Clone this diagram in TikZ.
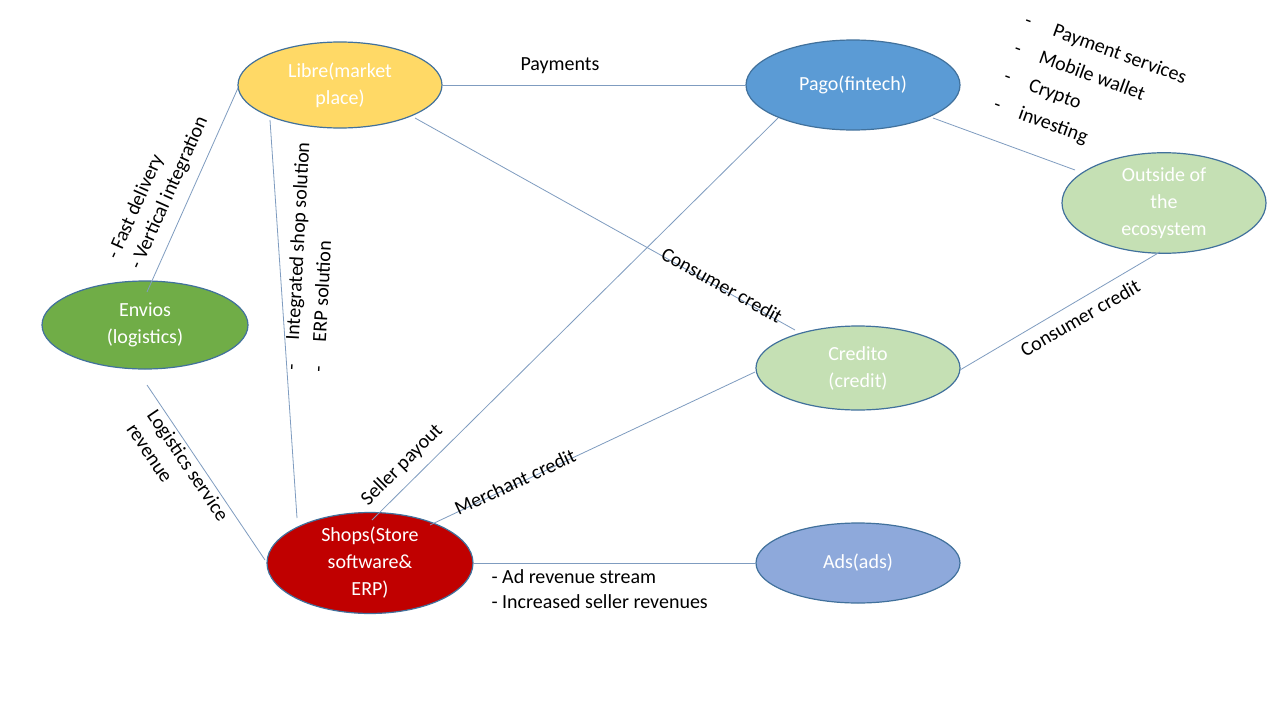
\documentclass[tikz,border=0pt]{standalone}
\usepackage{fontspec}
\setmainfont{Carlito}
\usetikzlibrary{shapes.geometric}
\definecolor{edge}{HTML}{7F9CC0}
\definecolor{cyel}{HTML}{FFD966}
\definecolor{cblue}{HTML}{5B9BD5}
\definecolor{clgreen}{HTML}{C5E0B4}
\definecolor{cgreen}{HTML}{70AD47}
\definecolor{cred}{HTML}{C00000}
\definecolor{cads}{HTML}{8EA9DB}
\definecolor{cborder}{HTML}{41719C}
\begin{document}
\begin{tikzpicture}[x=1pt,y=-1pt,
  el/.style={ellipse,draw=cborder,line width=1.2pt,text=white,font=\fontsize{20}{27}\selectfont,align=center,inner sep=0pt},
  ln/.style={draw=edge,line width=0.8pt},
  lab/.style={font=\fontsize{20}{25}\selectfont,text=black}]
\useasboundingbox[fill=white] (0,0) rectangle (1280,718);
\node[el,fill=cyel,minimum width=204pt,minimum height=86pt] (libre) at (340,85) {Libre(market\\place)};
\node[el,fill=cblue,minimum width=214pt,minimum height=90pt] (pago) at (853,85) {Pago(fintech)};
\node[el,fill=clgreen,minimum width=204pt,minimum height=90pt] (out) at (1164,203) {Outside of\\the\\ecosystem};
\node[el,fill=cgreen,minimum width=206pt,minimum height=88pt] (env) at (145,325) {Envios\\(logistics)};
\node[el,fill=clgreen,minimum width=204pt,minimum height=84pt] (cred) at (858,368) {Credito\\(credit)};
\node[el,fill=cred,minimum width=206pt,minimum height=88pt] (shops) at (370,563) {Shops(Store\\software\&\\ERP)};
\node[el,fill=cads,minimum width=204pt,minimum height=80pt] (ads) at (858,563) {Ads(ads)};
\coordinate (l1) at (238,88); \coordinate (e1) at (147,292);
\coordinate (l2) at (270,120); \coordinate (s2) at (297,518);
\coordinate (l3) at (415,118); \coordinate (c3) at (795,330);
\coordinate (p4) at (778,118); \coordinate (s4) at (372,520);
\coordinate (p5) at (933,118); \coordinate (o5) at (1075,170);
\coordinate (o6) at (1160,252); \coordinate (c6) at (960,370);
\coordinate (c7) at (755,372); \coordinate (s7) at (430,525);
\coordinate (e8) at (147,385); \coordinate (s8) at (265,560);
\draw[ln] (libre.east) -- (pago.west);
\draw[ln] (l1) -- (e1);
\draw[ln] (l2) -- (s2);
\draw[ln] (l3) -- (c3);
\draw[ln] (p4) -- (s4);
\draw[ln] (p5) -- (o5);
\draw[ln] (o6) -- (c6);
\draw[ln] (c7) -- (s7);
\draw[ln] (e8) -- (s8);
\draw[ln] (shops.east) -- (ads.west);
\node[lab] (t1) at (560,66) {Payments};
\node[lab,rotate=66,align=left] (t2) at (158,188) {- Fast delivery\\- Vertical integration};
\node[lab,rotate=87,align=left,font=\fontsize{20}{27}\selectfont] (t3) at (310,257) {-\hspace{1.2em}Integrated shop solution\\-\hspace{1.2em}ERP solution};
\node[lab,rotate=-29] (t4) at (722,285) {Consumer credit};
\node[lab,rotate=45] (t5) at (402,465) {Seller payout};
\node[lab,rotate=30] (t6) at (1080,318) {Consumer credit};
\node[lab,rotate=25] (t7) at (515,482) {Merchant credit};
\node[lab,rotate=-56,align=left] (t8) at (178,472) {Logistics service\\revenue};
\node[lab,align=left,anchor=north west] (t9) at (488,566) {- Ad revenue stream\\- Increased seller revenues};
\node[lab,rotate=-20,align=left,font=\fontsize{20}{30}\selectfont] (t10) at (1090,92) {-\hspace{1.2em}Payment services\\-\hspace{1em}Mobile wallet\\-\hspace{1em}Crypto\\-\hspace{1em}investing};
\end{tikzpicture}
\end{document}
